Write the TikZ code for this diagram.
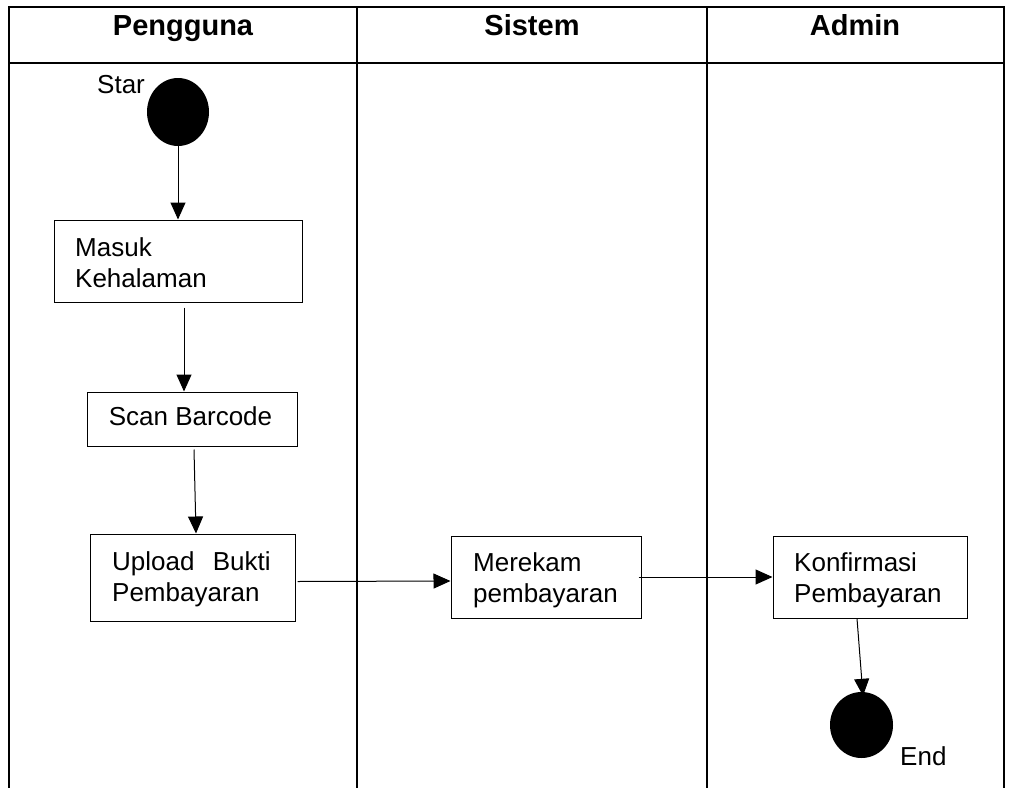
\documentclass[tikz,border=0pt]{standalone}
\usepackage{fontspec}
\setmainfont{Liberation Sans}
\usetikzlibrary{arrows.meta,shapes.geometric}
\begin{document}
\begin{tikzpicture}[x=1pt,y=-1pt,
  grid/.style={line width=2.6pt,line cap=rect},
  actbox/.style={draw,line width=1pt,rectangle,inner sep=0pt},
  lbl/.style={inner sep=0pt,font=\fontsize{26}{31}\selectfont,align=left},
  head/.style={inner sep=0pt,font=\fontsize{29}{34}\selectfont\bfseries},
  dot/.style={fill=black,draw=none,ellipse,inner sep=0pt},
  arr/.style={line width=1pt,-{Triangle[length=17pt,width=15pt]}}]
\useasboundingbox (0,0) rectangle (1009,787);
% swimlane table
\draw[grid] (9,7) -- (1004,7);
\draw[grid] (9,63) -- (1004,63);
\draw[grid] (9,7) -- (9,790);
\draw[grid] (357,7) -- (357,790);
\draw[grid] (707,7) -- (707,790);
\draw[grid] (1004,7) -- (1004,790);
\node[head,anchor=base] (h1) at (183,35) {Pengguna};
\node[head,anchor=base] (h2) at (532,35) {Sistem};
\node[head,anchor=base] (h3) at (855,35) {Admin};
% start
\node[dot,minimum width=62,minimum height=68] (start) at (178,112) {};
\node[lbl,anchor=base west] (startT) at (97,93) {Star};
% boxes
\node[actbox,minimum width=248,minimum height=82] (masuk) at (178,261) {};
\node[lbl,anchor=base west] (masukT) at (75,287) {Masuk\\Kehalaman};
\node[actbox,minimum width=210,minimum height=54] (scan) at (192,419) {};
\node[lbl,anchor=base] (scanT) at (190.5,425) {Scan Barcode};
\node[actbox,minimum width=205,minimum height=87] (upload) at (192.5,577.5) {};
\node[lbl,anchor=base west] (uploadT) at (112,601) {Upload\hspace{11pt} Bukti\\Pembayaran};
\node[actbox,minimum width=190,minimum height=82] (merekam) at (546,577) {};
\node[lbl,anchor=base west] (merekamT) at (473,602) {Merekam\\pembayaran};
\node[actbox,minimum width=194,minimum height=82] (konf) at (870,577) {};
\node[lbl,anchor=base west] (konfT) at (794,602) {Konfirmasi\\Pembayaran};
% end
\node[dot,minimum width=63,minimum height=66] (end) at (861.5,725) {};
\node[lbl,anchor=base west] (endT) at (900,765) {End};
% arrows
\draw[arr] (start.south) -- (masuk.north);
\draw[arr] ([xshift=6pt,yshift=-5pt]masuk.south) -- ([xshift=-8pt]scan.north);
\draw[arr] ([xshift=2pt,yshift=-3pt]scan.south) -- ([xshift=3.5pt]upload.north);
\draw[arr] ([xshift=2pt,yshift=-4pt]upload.east) -- ([yshift=-4pt]merekam.west);
\draw[arr] ([xshift=-3pt]merekam.east) -- (konf.west);
\draw[arr] ([xshift=-13pt]konf.south) -- ([xshift=1.5pt,yshift=-4pt]end.north);
\end{tikzpicture}
\end{document}
